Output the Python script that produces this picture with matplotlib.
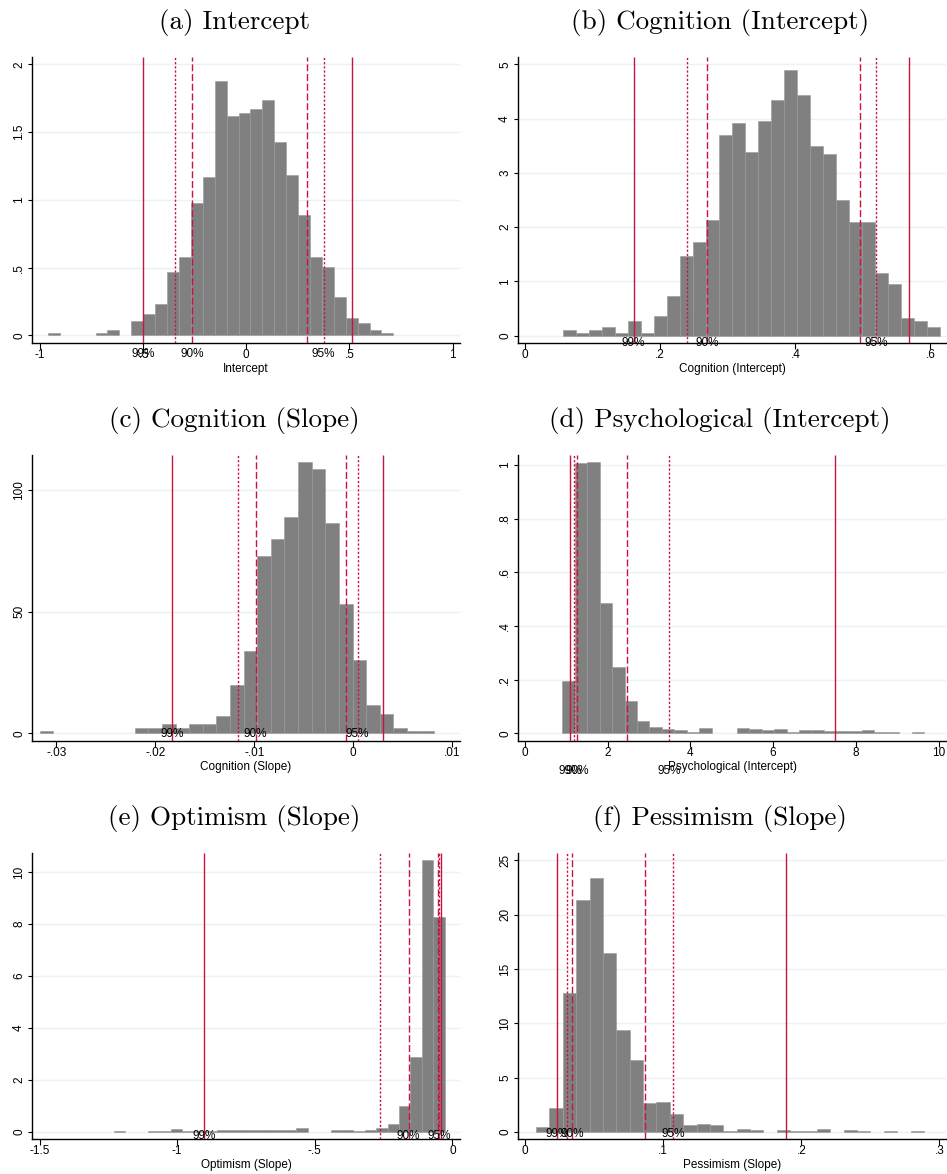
import re

import numpy as np
import matplotlib
matplotlib.use("Agg")
import matplotlib.pyplot as plt
from matplotlib.ticker import FixedLocator, FuncFormatter
from matplotlib.transforms import offset_copy

plt.rcParams["font.family"] = ["Liberation Sans", "DejaVu Sans"]

# --- panel texts ---
titles = ["(a) Intercept", "(b) Cognition (Intercept)", "(c) Cognition (Slope)",
          "(d) Psychological (Intercept)", "(e) Optimism (Slope)", "(f) Pessimism (Slope)"]
xlabels = ["Intercept", "Cognition (Intercept)", "Cognition (Slope)",
           "Psychological (Intercept)", "Optimism (Slope)", "Pessimism (Slope)"]

# --- histogram bins (29 bins per panel): start and width ---
bin_start = [-0.960, 0.0568, -0.03168, 0.896, -1.2296, 0.00798]
bin_width = [0.0577, 0.01921, 0.001374, 0.3019, 0.04143, 0.009686]

# --- bar heights (density) ---
dens_a = [0.02, 0, 0, 0, 0.02, 0.037, 0, 0.105, 0.16, 0.23, 0.47, 0.58, 0.98, 1.17, 1.88,
          1.62, 1.64, 1.67, 1.74, 1.43, 1.185, 0.89, 0.577, 0.508, 0.282, 0.125, 0.09, 0.04, 0.02]
dens_b = [0.104, 0.055, 0.104, 0.166, 0.055, 0.264, 0.055, 0.368, 0.736, 1.46, 1.73, 2.14,
          3.70, 3.91, 3.39, 3.96, 4.34, 4.90, 4.44, 3.50, 3.34, 2.50, 2.09, 2.09, 1.15, 0.945,
          0.325, 0.264, 0.166]
dens_c = [0.8, 0, 0, 0, 0, 0, 0, 2.05, 2.05, 3.7, 2.05, 3.7, 3.7, 7.3, 19.9, 34.0, 72.7,
          80.0, 88.8, 111.6, 108.6, 86.6, 53.0, 30.1, 11.6, 8.1, 2.05, 0.8, 0.8]
dens_d = [0.196, 1.009, 1.012, 0.487, 0.248, 0.12, 0.047, 0.025, 0.016, 0.011, 0.005, 0.02,
          0, 0, 0.02, 0.016, 0.011, 0.016, 0.005, 0.014, 0.011, 0.007, 0.007, 0.007, 0.011,
          0.004, 0.004, 0, 0.004]
dens_e = [0.03, 0, 0, 0.05, 0.04, 0.1, 0.04, 0.04, 0.04, 0.065, 0.09, 0.09, 0.065, 0.09,
          0.09, 0.09, 0.17, 0, 0, 0.077, 0.077, 0.04, 0.09, 0.14, 0.3, 1.01, 2.88, 10.46, 8.29]
dens_f = [0.46, 2.21, 12.79, 21.38, 23.37, 16.44, 9.42, 6.66, 2.64, 2.73, 1.69, 0.6, 0.7,
          0.6, 0.12, 0.3, 0.2, 0, 0.2, 0.1, 0.1, 0.32, 0, 0.2, 0.1, 0, 0.1, 0, 0.1]
densities = [dens_a, dens_b, dens_c, dens_d, dens_e, dens_f]

# --- confidence bounds: lo99, lo95, lo90, hi90, hi95, hi99 ---
ci_a = [-0.499, -0.346, -0.262, 0.296, 0.376, 0.512]
ci_b = [0.1607, 0.239, 0.270, 0.496, 0.5195, 0.5685]
ci_c = [-0.01826, -0.01169, -0.00987, -0.000708, 0.000438, 0.0030]
ci_d = [1.082, 1.194, 1.251, 2.47, 3.48, 7.50]
ci_e = [-0.902, -0.263, -0.159, -0.0534, -0.0473, -0.040]
ci_f = [0.02345, 0.0307, 0.0341, 0.0870, 0.1073, 0.1893]
bounds = [ci_a, ci_b, ci_c, ci_d, ci_e, ci_f]

# --- axis ticks ---
xticks = [[-1, -0.5, 0, 0.5, 1], [0, 0.2, 0.4, 0.6], [-0.03, -0.02, -0.01, 0, 0.01],
          [0, 2, 4, 6, 8, 10], [-1.5, -1, -0.5, 0], [0, 0.1, 0.2, 0.3]]
yticks = [[0, 0.5, 1, 1.5, 2], [0, 1, 2, 3, 4, 5], [0, 50, 100],
          [0, 0.2, 0.4, 0.6, 0.8, 1], [0, 2, 4, 6, 8, 10], [0, 5, 10, 15, 20, 25]]
xlims = [(-1.037, 1.036), (-0.0104, 0.623), (-0.03245, 0.01078),
         (-0.17, 10.18), (-1.528, 0.0279), (-0.0051, 0.3048)]
ylims = [(-0.056, 2.054), (-0.135, 5.135), (-3.15, 114.4),
         (-0.0286, 1.037), (-0.27, 10.74), (-0.644, 25.67)]

line_col = "#c8143f"
bar_col = "#808080"


def stata_fmt(v, pos=None):
    # Stata style: no leading zero (".5", "-.01")
    s = f"{v:g}"
    return re.sub(r"^(-?)0\.", r"\1.", s)


W, H = 947, 1174
fig = plt.figure(figsize=(W / 100, H / 100), dpi=100)

col_x = [32, 518]
row_bottom = [343, 741, 1139]
ax_w, ax_h = 428, 286

for i in range(6):
    r, c = divmod(i, 2)
    ax = fig.add_axes([col_x[c] / W, 1 - row_bottom[r] / H, ax_w / W, ax_h / H])

    heights = np.array(densities[i], dtype=float)
    lefts = bin_start[i] + bin_width[i] * np.arange(len(heights))
    keep = heights > 0
    ax.bar(lefts[keep], heights[keep], width=bin_width[i], align="edge",
           color=bar_col, edgecolor="#999999", linewidth=0.4, zorder=2)

    # CI lines: solid 99%, dotted 95%, dashed 90%
    styles = [(0, ()), (0, (1.6, 1.4)), (0, (5, 2))]
    ci = bounds[i]
    for k, x in enumerate(ci):
        ls = styles[min(k, 5 - k)]
        ax.axvline(x, color=line_col, linewidth=1.0, linestyle=ls, zorder=3)

    for x, lab in [(ci[0], "99%"), (ci[2], "90%"), (ci[4], "95%")]:
        ax.text(x, -0.14, lab, ha="center", va="center", fontsize=8.5, zorder=4)

    ax.set_xlim(*xlims[i])
    ax.set_ylim(*ylims[i])
    ax.xaxis.set_major_locator(FixedLocator(xticks[i]))
    ax.yaxis.set_major_locator(FixedLocator(yticks[i]))
    ax.xaxis.set_major_formatter(FuncFormatter(stata_fmt))
    ax.yaxis.set_major_formatter(FuncFormatter(stata_fmt))
    ax.grid(axis="y", color="#eaf2f3", linewidth=1.0, zorder=0)
    ax.set_axisbelow(True)

    for side in ["top", "right"]:
        ax.spines[side].set_visible(False)
    for side in ["left", "bottom"]:
        ax.spines[side].set_linewidth(1.0)
    ax.tick_params(axis="x", length=4, width=0.8, pad=0.5, labelsize=8.5)
    ax.tick_params(axis="y", length=3, width=0.8, pad=2, labelsize=8.5)
    for lbl in ax.get_yticklabels():
        lbl.set_rotation(90)
        lbl.set_va("center")

    ax.set_xlabel(xlabels[i], fontsize=8.5, labelpad=1)

    # title sits a bit left of the axes centre (centred on the whole sub-graph)
    tr = offset_copy(ax.transAxes, fig=fig, x=-12, y=35, units="dots")
    ax.text(0.5, 1.0, titles[i], transform=tr, ha="center", va="center",
            fontsize=19.5, family="cmr10")

fig.savefig("out.png", dpi=100)
